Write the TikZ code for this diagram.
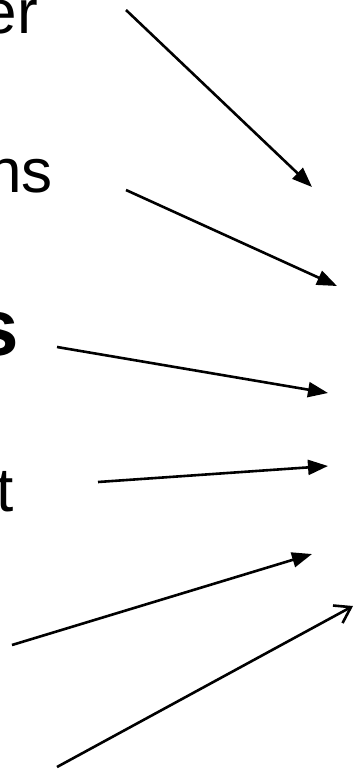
\documentclass[tikz,border=0pt]{standalone}
\usepackage{fontspec}
\setmainfont{Liberation Sans}
\usetikzlibrary{arrows.meta}

\begin{document}
\begin{tikzpicture}[x=1pt,y=-1pt,
    word/.style={inner sep=0pt,anchor=base east,font=\fontsize{62}{68}\selectfont},
    bigword/.style={word,font=\fontsize{80}{86}\selectfont\bfseries},
    pointer/.style={-{Triangle[length=20pt,width=15pt]},line width=2.6pt},
    openpointer/.style={-{Straight Barb[length=15pt,width=20pt,line width=2.6pt]},line width=2.6pt}]
  \useasboundingbox (0,0) rectangle (354,769);
  % left words, cut at the page edge
  \node[word] (er) at (38,33) {er};
  \node[word] (ns) at (53,192) {ns};
  \node[bigword] (s) at (19,355) {s};
  \node[word] (t) at (14,511) {t};
  % arrow ends
  \coordinate (a1) at (126,10);  \coordinate (b1) at (312,187);
  \coordinate (a2) at (126,190); \coordinate (b2) at (337,286);
  \coordinate (a3) at (57,347);  \coordinate (b3) at (328,393);
  \coordinate (a4) at (98,482);  \coordinate (b4) at (328,466);
  \coordinate (a5) at (12,645);  \coordinate (b5) at (312,554);
  \coordinate (a6) at (57,767);  \coordinate (b6) at (353,606);
  \draw[pointer] (a1) -- (b1);
  \draw[pointer] (a2) -- (b2);
  \draw[pointer] (a3) -- (b3);
  \draw[pointer] (a4) -- (b4);
  \draw[pointer] (a5) -- (b5);
  \draw[openpointer] (a6) -- (b6);
\end{tikzpicture}
\end{document}
